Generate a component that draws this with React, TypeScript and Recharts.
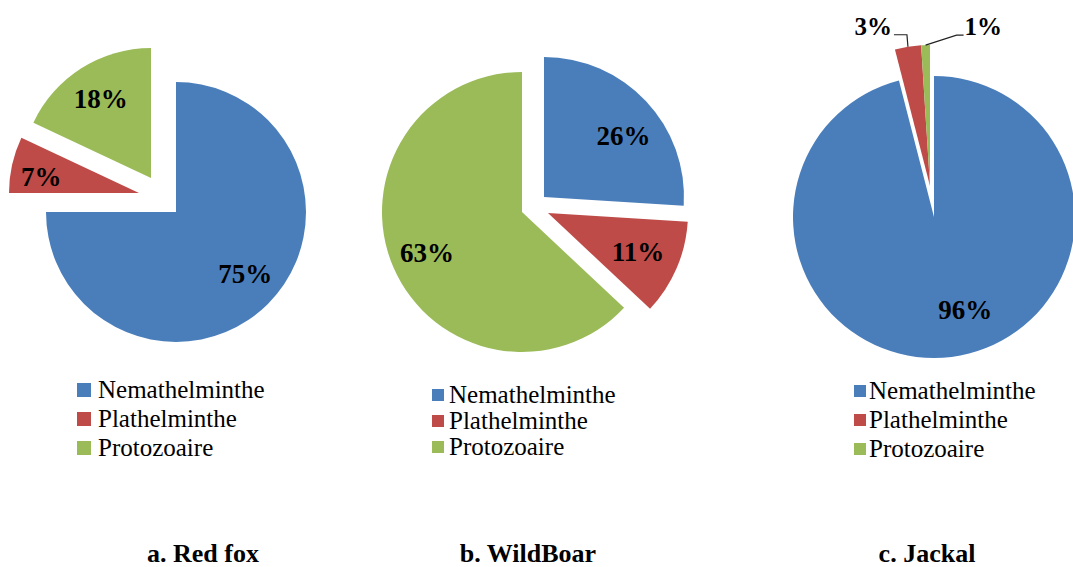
import { PieChart, Pie, Cell } from 'recharts'

const groups = ['Nemathelminthe', 'Plathelminthe', 'Protozoaire']
const redFox = [75, 7, 18]
const wildBoar = [26, 11, 63]
const jackal = [96, 3, 1]
const titles = ['a. Red fox', 'b. WildBoar', 'c. Jackal']

const colors = ['#4A7EBB', '#BE4B48', '#9BBB59']
const FONT = '"Liberation Serif", "Times New Roman", serif'
const RAD = Math.PI / 180

type LabelCfg =
  | { kind: 'in'; f: number; dx?: number; dy?: number }
  | { kind: 'out'; side: 'left' | 'right' }

interface Panel {
  values: number[]
  title: string
  cx: number
  cy: number
  r: number
  // pixel shift of each exploded slice
  offsets: [number, number][]
  labels: LabelCfg[]
  legend: { x: number; y: number; gap: number; box: number; textX: number }
  titleX: number
}

const panels: Panel[] = [
  {
    values: redFox,
    title: titles[0],
    cx: 176,
    cy: 212,
    r: 130,
    offsets: [[0, 0], [-37, -19], [-25, -34]],
    labels: [{ kind: 'in', f: 0.72, dx: 3, dy: -4 }, { kind: 'in', f: 0.77, dy: 6 }, { kind: 'in', f: 0.72 }],
    legend: { x: 77, y: 389, gap: 29, box: 14, textX: 98 },
    titleX: 203
  },
  {
    values: wildBoar,
    title: titles[1],
    cx: 522,
    cy: 212,
    r: 140,
    offsets: [[22, -15], [26, 1], [0, 0]],
    labels: [{ kind: 'in', f: 0.72, dx: 6, dy: 8 }, { kind: 'in', f: 0.7 }, { kind: 'in', f: 0.74 }],
    legend: { x: 432, y: 394, gap: 26, box: 12, textX: 449 },
    titleX: 528
  },
  {
    values: jackal,
    title: titles[2],
    cx: 934,
    cy: 217,
    r: 141,
    offsets: [[0, 0], [-4, -31], [-4, -31]],
    labels: [{ kind: 'in', f: 0.69, dx: 19, dy: -4 }, { kind: 'out', side: 'left' }, { kind: 'out', side: 'right' }],
    legend: { x: 854, y: 390, gap: 29, box: 12, textX: 869 },
    titleX: 927
  }
]

const toRows = (values: number[]) => values.map((v, i) => ({ name: groups[i], value: v }))

function makeLabel(panel: Panel, visible: number) {
  return (p: any) => {
    if (p.index !== visible) return null
    const cfg = panel.labels[visible]
    const a = -p.midAngle * RAD
    const ux = Math.cos(a)
    const uy = Math.sin(a)
    const text = `${p.value}%`
    if (cfg.kind === 'in') {
      const x = p.cx + p.outerRadius * cfg.f * ux + (cfg.dx ?? 0)
      const y = p.cy + p.outerRadius * cfg.f * uy + (cfg.dy ?? 0)
      return (
        <text x={x} y={y} textAnchor="middle" dominantBaseline="central"
          fontFamily={FONT} fontWeight="bold" fontSize={27} fill="#000">
          {text}
        </text>
      )
    }
    const ax = p.cx + p.outerRadius * ux
    const ay = p.cy + p.outerRadius * uy
    if (cfg.side === 'left') {
      return (
        <g>
          <polyline points={`${ax},${ay} ${ax - 1},${ay - 12} ${ax - 14},${ay - 12}`} fill="none" stroke="#222" strokeWidth={1.2} />
          <text x={ax - 16} y={ay - 12} textAnchor="end" fontFamily={FONT} fontWeight="bold" fontSize={25} fill="#000">
            {text}
          </text>
        </g>
      )
    }
    return (
      <g>
        <polyline points={`${ax},${ay} ${ax + 31},${ay - 10} ${ax + 38},${ay - 10}`} fill="none" stroke="#222" strokeWidth={1.2} />
        <text x={ax + 39} y={ay - 10} textAnchor="start" fontFamily={FONT} fontWeight="bold" fontSize={25} fill="#000">
          {text}
        </text>
      </g>
    )
  }
}

function Legend({ panel }: { panel: Panel }) {
  const { x, y, gap, box, textX } = panel.legend
  return (
    <>
      {groups.map((g, i) => (
        <div key={g} style={{ position: 'absolute', left: x, top: y + i * gap - 12.5, height: 25, display: 'flex', alignItems: 'center' }}>
          <div style={{ width: box, height: box, background: colors[i], marginTop: 2 }} />
          <span style={{ marginLeft: textX - x - box, fontFamily: FONT, fontSize: 25, lineHeight: '25px', color: '#000', whiteSpace: 'nowrap' }}>
            {g}
          </span>
        </div>
      ))}
    </>
  )
}

export default function App() {
  return (
    <div style={{ position: 'absolute', left: 0, top: 0, width: 1073, height: 567, background: '#fff', overflow: 'hidden' }}>
      <PieChart width={1073} height={567} margin={{ top: 0, right: 0, bottom: 0, left: 0 }}>
        {panels.flatMap((panel, pi) =>
          panel.values.map((_, si) => (
            <Pie
              key={`${pi}-${si}`}
              data={toRows(panel.values)}
              dataKey="value"
              nameKey="name"
              cx={panel.cx + panel.offsets[si][0]}
              cy={panel.cy + panel.offsets[si][1]}
              outerRadius={panel.r}
              startAngle={90}
              endAngle={-270}
              stroke="none"
              labelLine={false}
              label={makeLabel(panel, si)}
              isAnimationActive={false}
            >
              {panel.values.map((_, ci) => (
                <Cell key={ci} fill={ci === si ? colors[ci] : 'none'} stroke="none" />
              ))}
            </Pie>
          ))
        )}
      </PieChart>
      {panels.map((panel) => (
        <Legend key={panel.title} panel={panel} />
      ))}
      {panels.map((panel) => (
        <div
          key={panel.title}
          style={{
            position: 'absolute',
            left: panel.titleX - 100,
            width: 200,
            top: 543,
            textAlign: 'center',
            fontFamily: FONT,
            fontWeight: 'bold',
            fontSize: 26,
            lineHeight: '22px',
            color: '#000',
            whiteSpace: 'nowrap'
          }}
        >
          {panel.title}
        </div>
      ))}
    </div>
  )
}
